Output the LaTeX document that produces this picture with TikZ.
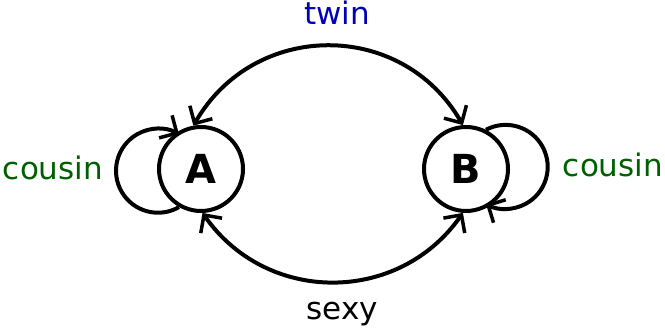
\documentclass[tikz,border=0pt]{standalone}
\usepackage{fontspec}
\setmainfont{DejaVu Sans}
\usetikzlibrary{arrows.meta}
\definecolor{twinblue}{RGB}{0,0,180}
\definecolor{cousingreen}{RGB}{0,95,0}
\tikzset{barb/.tip={Straight Barb[length=13pt,width=26pt,line width=3.5pt]}}
\begin{document}
\begin{tikzpicture}[x=1pt,y=1pt,
  state/.style={circle,draw,line width=4pt,minimum size=84pt,inner sep=0pt,font=\fontsize{40}{40}\selectfont\bfseries},
  edge/.style={line width=4pt,-barb},
  dedge/.style={line width=4pt,barb-barb},
  lab/.style={anchor=base,font=\fontsize{31}{31}\selectfont}]
\useasboundingbox (0,0) rectangle (665,328);
\node[state] (A) at (201,159) {A};
\node[state] (B) at (466,159) {B};
\draw[dedge] (A.100) .. controls +(60:122) and +(120:122) .. (B.94);
\draw[dedge] (A.272) .. controls +(-55:112) and +(235:112) .. (B.266);
\draw[edge] (A.240) arc[start angle=-60,end angle=-300,radius=42];
\draw[edge] (B.63) arc[start angle=118,end angle=-118,radius=42];
\node[lab,text=twinblue] (tw) at (337,303) {twin};
\node[lab] (sx) at (342,8) {sexy};
\node[lab,text=cousingreen] (c1) at (53,148) {cousin};
\node[lab,text=cousingreen] (c2) at (613,151) {cousin};
\end{tikzpicture}
\end{document}
